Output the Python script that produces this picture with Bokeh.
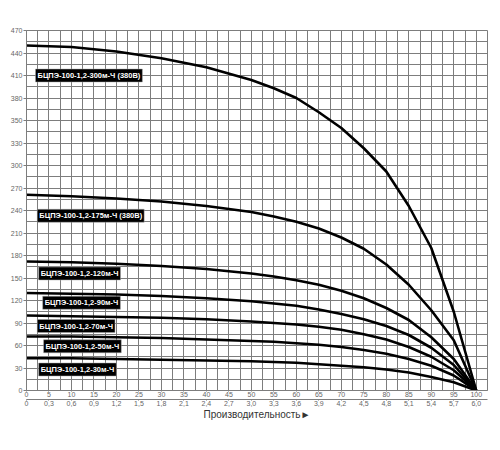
import math
from bokeh.plotting import figure
from bokeh.models import FixedTicker, LinearAxis, Label, Range1d
from bokeh.embed import file_html
from bokeh.resources import INLINE

# ---- data (flow in l/min, head in m) ----
flow = [0, 10, 20, 30, 40, 50, 55, 60, 65, 70, 75, 80, 85, 90, 95, 100]
h_300 = [460, 458, 452, 443, 431, 414, 403, 390, 371, 350, 323, 292, 246, 190, 105, 0]
h_175 = [261, 259, 256, 252, 246, 238, 232, 225, 216, 204, 189, 168, 141, 107, 67, 0]
h_120 = [172, 171, 169, 166, 162, 156, 152, 147, 141, 133, 123, 110, 94, 71, 42, 0]
h_90 = [130, 129, 128, 126, 123, 119, 116, 113, 108, 102, 95, 86, 74, 57, 34, 0]
h_70 = [100, 99, 98, 97, 95, 92, 90, 88, 85, 81, 75, 68, 58, 45, 27, 0]
h_50 = [72, 72, 71, 70, 68, 66, 65, 63, 61, 58, 54, 49, 42, 33, 20, 0]
h_30 = [43, 43, 42, 41, 40, 39, 38, 37, 35, 33, 31, 28, 24, 18, 11, 0]

names = ["БЦПЭ-100-1,2-300м-Ч (380В)", "БЦПЭ-100-1,2-175м-Ч (380В)",
         "БЦПЭ-100-1,2-120м-Ч", "БЦПЭ-100-1,2-90м-Ч", "БЦПЭ-100-1,2-70м-Ч",
         "БЦПЭ-100-1,2-50м-Ч", "БЦПЭ-100-1,2-30м-Ч"]
heads = [h_300, h_175, h_120, h_90, h_70, h_50, h_30]
label_x = [2.0, 2.4, 2.7, 3.6, 2.4, 3.8, 2.7]
label_y = [420, 233, 156, 117, 86, 59, 28]

x_ticks = [0, 5, 10, 15, 20, 25, 30, 35, 40, 45, 50, 55, 60, 65, 70, 75, 80, 85, 90, 95, 100]
x_labels_m3h = ["0", "0,3", "0,6", "0,9", "1,2", "1,5", "1,8", "2,1", "2,4", "2,7", "3,0",
                "3,3", "3,6", "3,9", "4,2", "4,5", "4,8", "5,1", "5,4", "5,7", "6,0"]
y_ticks = [0, 30, 60, 90, 120, 150, 180, 210, 240, 270, 300, 330, 360, 390, 420, 450, 480]
y_labels = ["0", "30", "60", "90", "120", "150", "180", "210", "240", "270", "300",
            "330", "350", "380", "410", "440", "470"]
x_grid = [i * 2.5 for i in range(42)]
y_grid = [i * 15 for i in range(33)]

FONT = "Liberation Sans"
GRID = "#7d7d7d"
TICK_TXT = "#666666"

p = figure(frame_width=461, frame_height=360, x_range=Range1d(0, 102.5), y_range=Range1d(0, 480),
           output_backend="svg", toolbar_location=None,
           min_border_left=26, min_border_right=12, min_border_top=30, min_border_bottom=40)
p.outline_line_color = GRID
p.outline_line_width = 1
p.background_fill_color = "white"

p.xgrid.ticker = FixedTicker(ticks=x_grid)
p.ygrid.ticker = FixedTicker(ticks=y_grid)
for g in (p.xgrid[0], p.ygrid[0]):
    g.grid_line_color = GRID
    g.grid_line_width = 1

# y axis
ya = p.yaxis[0]
ya.ticker = FixedTicker(ticks=y_ticks)
ya.major_label_overrides = {t: s for t, s in zip(y_ticks, y_labels)}
ya.major_label_text_font = FONT
ya.major_label_text_font_size = "7px"
ya.major_label_text_color = TICK_TXT
ya.major_tick_out = 3
ya.major_tick_in = 0
ya.minor_tick_out = 0
ya.minor_tick_in = 0
ya.major_label_standoff = 1
ya.axis_line_color = GRID
ya.major_tick_line_color = GRID

# x axis row 1 (l/min)
xa = p.xaxis[0]
xa.ticker = FixedTicker(ticks=x_ticks)
xa.major_label_overrides = {t: str(t) for t in x_ticks}
# row 2 (m3/h)
xa2 = LinearAxis(ticker=FixedTicker(ticks=x_ticks),
                 major_label_overrides={t: s for t, s in zip(x_ticks, x_labels_m3h)})
p.add_layout(xa2, "below")
for a in (xa, xa2):
    a.major_label_text_font = FONT
    a.major_label_text_font_size = "7px"
    a.major_label_text_color = TICK_TXT
    a.major_tick_out = 1
    a.major_tick_in = 0
    a.minor_tick_out = 0
    a.minor_tick_in = 0
    a.major_label_standoff = 0
    a.axis_line_color = GRID
    a.major_tick_line_color = GRID
xa2.axis_label = "Производительность►"
xa2.axis_label_text_font = FONT
xa2.axis_label_text_font_size = "10px"
xa2.axis_label_text_font_style = "normal"
xa2.axis_label_text_color = "#333333"
xa2.axis_label_standoff = 0

# curves
for h in heads:
    p.line(flow, h, line_color="black", line_width=2.6, line_join="round")

# curve labels
for name, lx, ly in zip(names, label_x, label_y):
    p.add_layout(Label(x=lx, y=ly, text=name, text_color="white", text_font=FONT,
                       text_font_size="7.5px", text_font_style="bold",
                       text_baseline="middle", text_align="left",
                       background_fill_color="black", border_line_color="#aaaaaa",
                       border_line_width=0.5, padding=2))

# y axis title (screen units are measured from the frame's lower-left corner)
p.add_layout(Label(x=-21, x_units="screen", y=218, text="Высота подъёма (м) ►",
                   angle=math.pi / 2, text_align="center", text_baseline="middle",
                   text_font=FONT, text_font_size="10px", text_color="#333333"))
# unit labels next to the last tick labels
p.add_layout(Label(x=456, x_units="screen", y=-6, y_units="screen", text="л/мин.",
                   text_font=FONT, text_font_size="6px", text_color=TICK_TXT,
                   text_baseline="middle", text_align="left"))
p.add_layout(Label(x=457, x_units="screen", y=-15, y_units="screen", text="м³/ч.",
                   text_font=FONT, text_font_size="6px", text_color=TICK_TXT,
                   text_baseline="middle", text_align="left"))

open("out.html", "w").write(file_html(p, INLINE))
